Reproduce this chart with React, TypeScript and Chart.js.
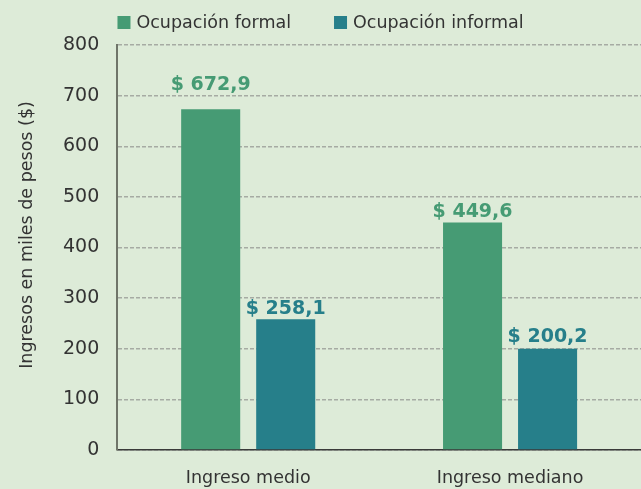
import React, { useEffect, useRef } from "react";
import { Chart, registerables } from "chart.js";

Chart.register(...registerables);

const categories = ["Ingreso medio", "Ingreso mediano"];
const seriesNames = ["Ocupación formal", "Ocupación informal"];
const formalValues = [672.9, 449.6];
const informalValues = [258.1, 200.2];
const yTicks = [0, 100, 200, 300, 400, 500, 600, 700, 800];
const yTitle = "Ingresos en miles de pesos ($)";

const FORMAL = "#469b74";
const INFORMAL = "#267f8a";
const BG = "#ddebd8";
const TEXT = "#333333";
const FONT = "'DejaVu Sans', sans-serif";

const labelGap = [
  [19, 5],
  [5, 7],
];

const fmt = (v: number) => "$ " + v.toFixed(1).replace(".", ",");

const valueLabels = {
  id: "valueLabels",
  afterDatasetsDraw(chart: any) {
    const ctx = chart.ctx;
    ctx.save();
    ctx.font = `bold 19px ${FONT}`;
    ctx.textAlign = "center";
    ctx.textBaseline = "alphabetic";
    chart.data.datasets.forEach((ds: any, di: number) => {
      const meta = chart.getDatasetMeta(di);
      meta.data.forEach((bar: any, i: number) => {
        ctx.fillStyle = ds.backgroundColor;
        ctx.fillText(fmt(ds.data[i]), bar.x, bar.y - labelGap[di][i]);
      });
    });
    ctx.restore();
  },
};

const axisTitle = {
  id: "axisTitle",
  afterDraw(chart: any) {
    const ctx = chart.ctx;
    ctx.save();
    ctx.font = `17.5px ${FONT}`;
    ctx.fillStyle = TEXT;
    ctx.textAlign = "center";
    ctx.textBaseline = "middle";
    ctx.translate(27, 235);
    ctx.rotate(-Math.PI / 2);
    ctx.fillText(yTitle, 0, 0);
    ctx.restore();
  },
};

const customLegend = {
  id: "customLegend",
  afterDraw(chart: any) {
    const ctx = chart.ctx;
    ctx.save();
    ctx.font = `17.5px ${FONT}`;
    ctx.textBaseline = "alphabetic";
    const colors = [FORMAL, INFORMAL];
    const box = 13;
    const gapBoxText = 6;
    const gapItems = 43;
    const widths = seriesNames.map((n) => box + gapBoxText + ctx.measureText(n).width);
    const total = widths.reduce((a, b) => a + b, 0) + gapItems;
    let x = chart.width / 2 - total / 2;
    const baseline = 28;
    seriesNames.forEach((n, i) => {
      ctx.fillStyle = colors[i];
      ctx.fillRect(x, baseline - 12, box, box);
      ctx.fillStyle = TEXT;
      ctx.textAlign = "left";
      ctx.fillText(n, x + box + gapBoxText, baseline);
      x += widths[i] + gapItems;
    });
    ctx.restore();
  },
};

export default function App() {
  const ref = useRef<HTMLCanvasElement>(null);
  useEffect(() => {
    if (!ref.current) return;
    const chart = new Chart(ref.current, {
      type: "bar",
      data: {
        labels: categories,
        datasets: [
          {
            label: seriesNames[0],
            data: formalValues,
            backgroundColor: FORMAL,
            barPercentage: 0.787,
            categoryPercentage: 0.573,
          },
          {
            label: seriesNames[1],
            data: informalValues,
            backgroundColor: INFORMAL,
            barPercentage: 0.787,
            categoryPercentage: 0.573,
          },
        ],
      },
      options: {
        responsive: false,
        animation: false,
        layout: { padding: { top: 45, left: 45, right: 0, bottom: -18 } },
        plugins: {
          legend: { display: false },
          tooltip: { enabled: false },
        },
        scales: {
          x: {
            grid: { display: false, drawTicks: false },
            border: { display: true, color: "#3a3a3a", width: 1.5 },
            ticks: { color: TEXT, font: { family: FONT, size: 17.5 }, padding: 18 },
          },
          y: {
            min: 0,
            max: 800,
            afterBuildTicks: (axis: any) => {
              axis.ticks = yTicks.map((v) => ({ value: v }));
            },
            grid: { color: "#a6aba3", lineWidth: 1.5, drawTicks: false },
            border: { display: true, color: "#6f7569", width: 2, dash: [4, 2] },
            ticks: { color: TEXT, font: { family: FONT, size: 19 }, padding: 18 },
          },
        },
      },
      plugins: [valueLabels, customLegend, axisTitle],
    });
    return () => chart.destroy();
  }, []);
  return (
    <div
      style={{
        position: "absolute",
        left: 0,
        top: 0,
        width: 641,
        height: 489,
        background: BG,
      }}
    >
      <canvas ref={ref} width={641} height={489} />
    </div>
  );
}
